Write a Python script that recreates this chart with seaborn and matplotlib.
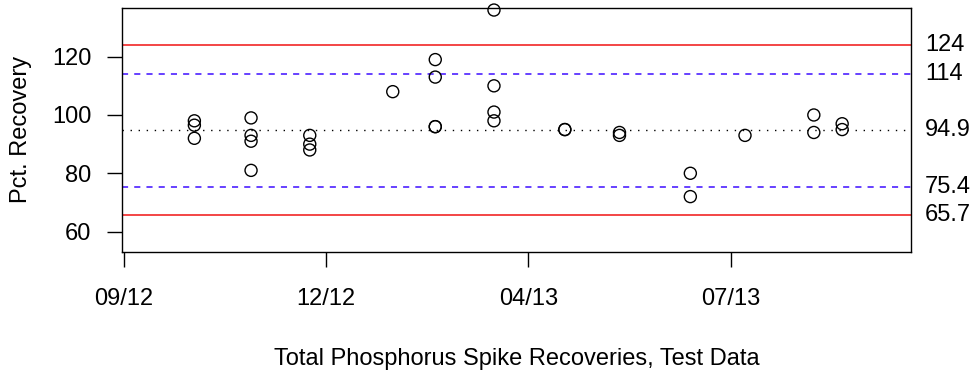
import numpy as np
import pandas as pd
import matplotlib
matplotlib.use("Agg")
import matplotlib.pyplot as plt
from matplotlib import transforms
import seaborn as sns

# sample dates and spike recoveries (percent)
sample_dates = ["2012-10-25"] * 3 + ["2012-11-22"] * 4 + ["2012-12-21"] * 3 + \
    ["2013-01-31"] + ["2013-02-21"] * 4 + ["2013-03-22"] * 4 + \
    ["2013-04-26"] * 2 + ["2013-05-23"] * 2 + ["2013-06-27"] * 2 + \
    ["2013-07-24"] + ["2013-08-27"] * 2 + ["2013-09-10"] * 2
recovery = [98, 96.5, 92,
            99, 93, 91, 81,
            93, 90, 88,
            108,
            119, 113, 96, 96,
            136, 110, 101, 98,
            95, 95,
            94, 93,
            80, 72,
            93,
            100, 94,
            97, 95]

# control chart limits
center_line = 94.9
warning_limits = [75.4, 114]
control_limits = [65.7, 124]
limit_labels = {124: "124", 114: "114", 94.9: "94.9", 75.4: "75.4", 65.7: "65.7"}

tick_dates = ["2012-09-20", "2012-12-29", "2013-04-08", "2013-07-17"]
tick_labels = ["09/12", "12/12", "04/13", "07/13"]
y_ticks = [60, 80, 100, 120]

df = pd.DataFrame({"date": pd.to_datetime(sample_dates), "recovery": recovery})

sns.set_style("white")
plt.rcParams["font.family"] = ["Liberation Sans", "DejaVu Sans"]
# plain black text like the original
for k in ["text.color", "axes.labelcolor", "xtick.color", "ytick.color"]:
    plt.rcParams[k] = "black"
fs = 17

fig = plt.figure(figsize=(9.77, 3.72), dpi=100)
ax = fig.add_axes([122.3 / 977, 1 - 251.7 / 372, (911 - 122.3) / 977, (251.7 - 8) / 372])

# limit lines
for v in control_limits:
    ax.axhline(v, color="#f01414", lw=1.1, zorder=1)
for v in warning_limits:
    ax.axhline(v, color="#3d0dff", lw=1.1, linestyle=(0, (4, 4)), zorder=1)
ax.axhline(center_line, color="black", lw=1.0, linestyle=(0, (1, 4.8)), zorder=1)

sns.scatterplot(data=df, x="date", y="recovery", ax=ax, marker="o",
                s=75, facecolor="none", edgecolor="black", linewidth=1.0,
                zorder=3, clip_on=False)

start = pd.Timestamp(tick_dates[0])
ax.set_xlim(start - pd.Timedelta(days=0.6), start + pd.Timedelta(days=389))
ax.set_ylim(53.1, 136.7)

ax.set_xticks(pd.to_datetime(tick_dates))
ax.set_xticklabels(tick_labels)
ax.set_yticks(y_ticks)
ax.set_yticklabels([str(t) for t in y_ticks])

ax.tick_params(axis="both", which="major", direction="out", length=10.8,
               width=1.0, color="black", labelcolor="black", labelsize=fs,
               left=True, bottom=True)
ax.tick_params(axis="y", pad=11.5)
ax.tick_params(axis="x", pad=15.5)

for s in ax.spines.values():
    s.set_visible(True)
    s.set_color("black")
    s.set_linewidth(1.0)

ax.set_xlabel("Total Phosphorus Spike Recoveries, Test Data", fontsize=fs, color="black")
ax.set_ylabel("Pct. Recovery", fontsize=fs, color="black")
ax.xaxis.label.set_va("baseline")
ax.yaxis.label.set_va("baseline")
ax.xaxis.set_label_coords(0.5, -(365 - 251.7) / 243.7)
ax.yaxis.set_label_coords((26.7 - 122.3) / 788.7, 0.5)

# labels for the limit lines on the right margin
trans = transforms.blended_transform_factory(ax.transAxes, ax.transData)
for v, lab in limit_labels.items():
    ax.text(1 + 14 / 788.7, v, lab, transform=trans, ha="left", va="center",
            fontsize=fs, color="black", clip_on=False)

fig.savefig("out.png", dpi=100)
